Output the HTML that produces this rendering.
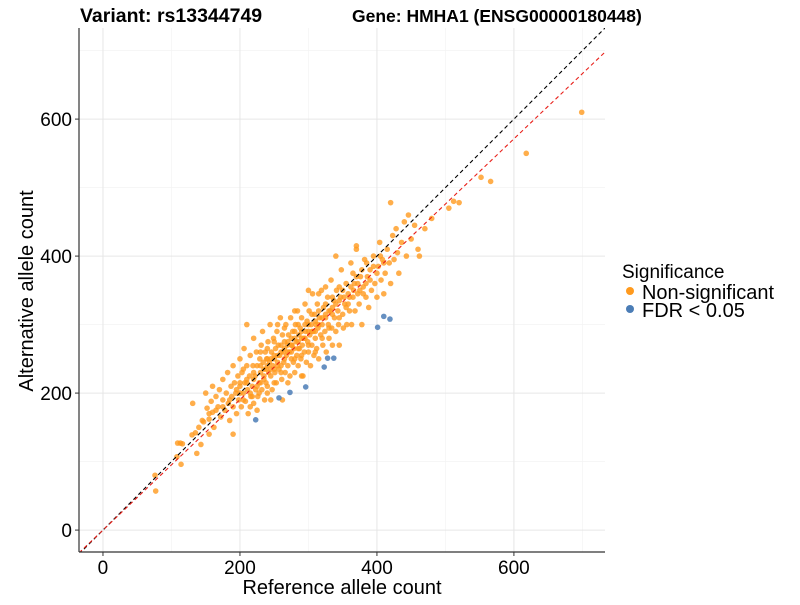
<!DOCTYPE html>
<html><head><meta charset="utf-8"><style>
body{margin:0;background:#fff;}
svg text{font-family:"Liberation Sans",Arial,sans-serif;}
</style></head><body>
<svg id="chart" width="800" height="600" xmlns="http://www.w3.org/2000/svg">
<rect width="800" height="600" fill="#fff"/>
<g id="grid"></g>
<g id="lines"></g>
<g id="points"></g>
<g id="axes"></g>
<text x="80" y="22" font-size="19.5" font-weight="bold">Variant: rs13344749</text>
<text x="352" y="22" font-size="17.5" font-weight="bold">Gene: HMHA1 (ENSG00000180448)</text>
<text x="342" y="594" font-size="20" text-anchor="middle">Reference allele count</text>
<text transform="translate(33,291) rotate(-90)" font-size="20" text-anchor="middle">Alternative allele count</text>
<g>
<text x="622" y="278" font-size="19">Significance</text>
<circle cx="630" cy="291" r="4" fill="#FF9A1E"/>
<text x="642" y="299" font-size="20" textLength="132" lengthAdjust="spacingAndGlyphs">Non-significant</text>
<circle cx="630" cy="309" r="4" fill="#4B7DB6"/>
<text x="642" y="317" font-size="20">FDR &lt; 0.05</text>
</g>
</svg>
<script>
const xTicks=[0,200,400,600];
const yTicks=[0,200,400,600];
const minorTicks=[100,300,500,700];
const redSlope=0.952;
const orangePts=[[77,57],[76,80],[109,127],[113,127],[116,126],[108,107],[114,96],[130,139],[137,112],[143,125],[131,185],[147,158],[140,150],[135,142],[150,200],[152,178],[155,162],[158,188],[160,210],[160,172],[162,150],[165,195],[168,180],[170,205],[172,165],[175,220],[175,190],[178,175],[180,200],[182,230],[183,185],[185,160],[187,210],[188,195],[190,240],[190,180],[192,215],[194,200],[195,170],[197,225],[198,190],[200,250],[200,210],[202,180],[203,230],[205,200],[206,265],[207,215],[208,188],[210,240],[211,205],[212,170],[214,225],[215,255],[216,195],[218,210],[219,240],[220,280],[220,185],[222,225],[223,205],[224,260],[225,240],[226,195],[228,215],[229,250],[230,230],[231,270],[232,205],[233,290],[234,245],[235,220],[236,190],[237,260],[238,235],[239,250],[240,210],[241,275],[242,230],[243,245],[244,300],[245,225],[246,260],[247,205],[248,240],[249,280],[250,250],[251,230],[252,265],[253,215],[254,290],[255,245],[256,270],[257,235],[258,255],[259,310],[260,240],[261,220],[262,285],[263,260],[264,245],[265,275],[266,230],[267,300],[268,255],[269,270],[270,240],[271,285],[272,260],[273,225],[274,310],[275,250],[276,270],[277,290],[278,245],[279,265],[280,230],[281,300],[282,275],[283,255],[284,320],[285,240],[286,285],[287,265],[288,295],[289,250],[290,310],[291,270],[292,225],[293,280],[294,260],[295,330],[296,290],[297,245],[298,305],[299,275],[300,260],[301,320],[302,285],[303,240],[304,300],[305,270],[306,345],[307,290],[308,255],[309,315],[310,280],[311,300],[312,265],[313,330],[314,295],[315,250],[316,310],[318,285],[319,350],[320,300],[321,270],[322,325],[324,290],[325,310],[326,260],[328,340],[329,300],[330,280],[332,320],[333,365],[334,295],[335,270],[337,335],[338,310],[340,290],[341,350],[343,320],[344,300],[345,270],[347,340],[348,380],[350,315],[351,295],[353,330],[355,360],[356,300],[358,345],[360,320],[362,390],[363,300],[365,340],[367,360],[368,320],[370,410],[372,345],[374,330],[376,370],[378,300],[380,355],[382,395],[384,340],[386,370],[388,325],[390,380],[392,350],[395,400],[397,360],[400,340],[402,385],[404,420],[406,365],[408,395],[410,345],[412,375],[415,410],[418,390],[420,360],[423,430],[425,395],[428,440],[430,405],[432,375],[436,420],[440,450],[443,400],[446,460],[450,425],[455,445],[460,410],[462,400],[470,440],[480,455],[505,470],[512,480],[520,478],[552,515],[566,509],[618,550],[699,610],[420,478],[370,415],[300,350],[210,300],[340,400],[155,140],[190,140],[262,190],[290,225],[215,180],[225,175],[245,190],[270,215],[205,235],[230,260],[250,275],[265,295],[280,320],[240,265],[255,300],[275,280],[285,265],[300,290],[315,345],[325,355],[335,315],[345,335],[355,325],[365,375],[375,350],[385,390],[260,270],[270,260],[280,290],[290,280],[250,235],[240,240],[230,215],[220,220],[210,215],[200,200],[195,205],[185,190],[175,180],[165,175],[155,170],[145,160],[235,235],[245,250],[255,255],[265,265],[275,270],[285,300],[295,300],[305,315],[315,320],[325,330],[335,340],[345,355],[310,260],[320,280],[330,295],[260,230],[250,215],[240,200],[280,250],[290,255],[300,270],[310,290],[228,200],[218,195],[238,215],[345,310],[352,340],[358,330],[362,355],[366,350],[372,360],[378,380],[384,360],[390,365],[395,385],[400,375],[405,400],[410,390],[360,340],[370,370],[380,345],[350,350],[340,330],[330,320],[320,310],[310,305],[300,300],[290,290],[280,280],[270,275],[260,260],[250,255],[240,250],[230,240],[220,230],[210,220],[200,215],[305,290],[315,300],[325,315],[335,325],[295,280],[285,275],[275,260],[265,250],[255,240],[245,235],[235,225],[225,210],[215,200],[205,190]];
const bluePts=[[223,161],[257,193],[273,201],[296,209],[323,238],[328,251],[337,251],[401,296],[410,312],[419,308]];
const X0=79,X1=605,Y0=552,Y1=28,XMIN=-35,XMAX=733,YMIN=-32,YMAX=733;
const sx=v=>X0+(v-XMIN)/(XMAX-XMIN)*(X1-X0);
const sy=v=>Y0-(v-YMIN)/(YMAX-YMIN)*(Y0-Y1);
const NS="http://www.w3.org/2000/svg";
function mk(tag,attrs,parent){const e=document.createElementNS(NS,tag);for(const k in attrs)e.setAttribute(k,attrs[k]);parent.appendChild(e);return e;}
const grid=document.getElementById('grid');
minorTicks.forEach(v=>{
 const a=mk('line',{x1:sx(v),x2:sx(v),y1:Y1,y2:Y0,stroke:'#f2f2f2','stroke-width':0.6},grid);
 
 
 const b=mk('line',{x1:X0,x2:X1,y1:sy(v),y2:sy(v),stroke:'#f2f2f2','stroke-width':0.6},grid);
 
 
});
xTicks.forEach(v=>{
 const a=mk('line',{x1:sx(v),x2:sx(v),y1:Y1,y2:Y0,stroke:'#e6e6e6','stroke-width':1},grid);
 
 
});
yTicks.forEach(v=>{
 const b=mk('line',{x1:X0,x2:X1,y1:sy(v),y2:sy(v),stroke:'#e6e6e6','stroke-width':1},grid);
 
 
});
const lines=document.getElementById('lines');
const clip=mk('clipPath',{id:'pc'},lines);mk('rect',{x:X0,y:Y1,width:X1-X0,height:Y0-Y1},clip);
const pts=document.getElementById('points');
orangePts.forEach(p=>{
 const c=mk('circle',{cx:sx(p[0]),cy:sy(p[1]),r:2.8,fill:'#FF9A1E','fill-opacity':0.8},pts);
 
 
});
bluePts.forEach(p=>{
 const c=mk('circle',{cx:sx(p[0]),cy:sy(p[1]),r:2.8,fill:'#4B7DB6','fill-opacity':0.85},pts);
 
 
});
const lg=document.getElementById('points');
const bl=mk('line',{x1:sx(XMIN),y1:sy(XMIN),x2:sx(XMAX),y2:sy(XMAX),stroke:'#000','stroke-width':1.1,'stroke-dasharray':'4,3','clip-path':'url(#pc)'},lg);


const rl=mk('line',{x1:sx(XMIN),y1:sy(XMIN*redSlope),x2:sx(XMAX),y2:sy(XMAX*redSlope),stroke:'#e8201a','stroke-width':1.1,'stroke-dasharray':'4,3','clip-path':'url(#pc)'},lg);


const axes=document.getElementById('axes');
mk('line',{x1:X0,x2:X0,y1:Y1,y2:Y0,stroke:'#333','stroke-width':1.2},axes);
mk('line',{x1:X0,x2:X1,y1:Y0,y2:Y0,stroke:'#333','stroke-width':1.2},axes);
xTicks.forEach(v=>{
 mk('line',{x1:sx(v),x2:sx(v),y1:Y0,y2:Y0+4,stroke:'#333'},axes);
 const t=mk('text',{x:sx(v),y:Y0+22,'font-size':19,'text-anchor':'middle',fill:'#000'},axes);
 t.textContent=v;
 
 
});
yTicks.forEach(v=>{
 mk('line',{x1:X0-4,x2:X0,y1:sy(v),y2:sy(v),stroke:'#333'},axes);
 const t=mk('text',{x:X0-7,y:sy(v)+7,'font-size':19,'text-anchor':'end',fill:'#000'},axes);
 t.textContent=v;
 
 
});
</script>
</body></html>
